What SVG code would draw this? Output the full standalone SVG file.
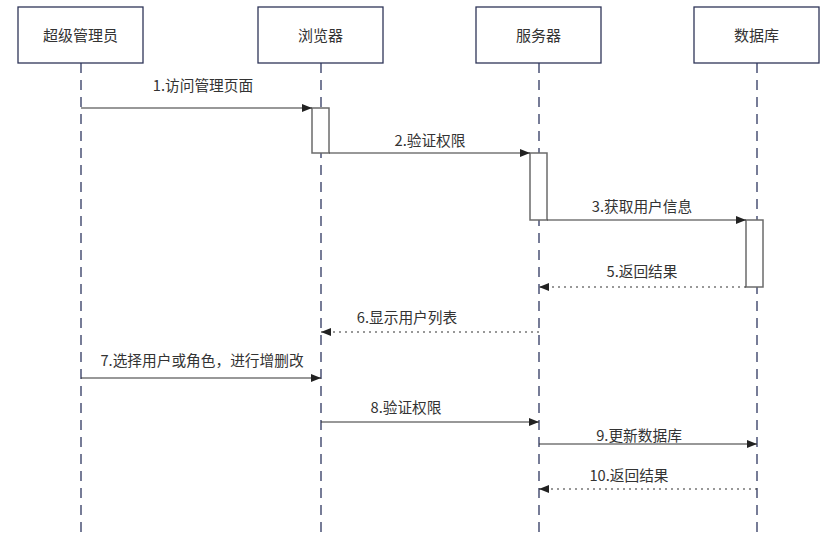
<svg xmlns="http://www.w3.org/2000/svg" width="839" height="537" viewBox="0 0 839 537">
<defs>
<style>
.box{fill:#fff;stroke:#2e3558;stroke-width:1.3}
.life{stroke:#2e3760;stroke-width:1.3;stroke-dasharray:10,7;fill:none}
.act{fill:#fff;stroke:#6b6b6b;stroke-width:1.5}
.msg{stroke:#333;stroke-width:1.2;fill:none}
.ret{stroke:#333;stroke-width:1.2;fill:none;stroke-dasharray:2,4}
.lbl{font-family:"Noto Sans CJK SC","Noto Sans",sans-serif;font-size:14.7px;fill:#333;text-anchor:middle}
.nlbl{font-family:"Noto Sans CJK SC","Noto Sans",sans-serif;font-size:15px;fill:#333;text-anchor:middle}
</style>
<marker id="ah" viewBox="0 0 10 10" refX="10" refY="5" markerWidth="10" markerHeight="10" markerUnits="userSpaceOnUse" orient="auto">
<path d="M0,1 L10,5 L0,9 Z" fill="#222"/>
</marker>
</defs>
<rect width="839" height="537" fill="#fff"/>
<g id="admin">
<rect class="box" x="18" y="7" width="125" height="56"/>
<text class="nlbl" x="80.5" y="41">超级管理员</text>
<line class="life" x1="81" y1="63" x2="81" y2="537"/>
</g>
<g id="browser">
<rect class="box" x="258" y="7" width="125" height="56"/>
<text class="nlbl" x="320.5" y="41">浏览器</text>
<line class="life" x1="321" y1="63" x2="321" y2="537"/>
</g>
<g id="server">
<rect class="box" x="476" y="7" width="125" height="56"/>
<text class="nlbl" x="538.5" y="41">服务器</text>
<line class="life" x1="539" y1="63" x2="539" y2="537"/>
</g>
<g id="database">
<rect class="box" x="694" y="7" width="125" height="56"/>
<text class="nlbl" x="756.5" y="41">数据库</text>
<line class="life" x1="757" y1="63" x2="757" y2="537"/>
</g>
<g id="activations">
<rect class="act" x="312" y="108" width="17" height="45"/>
<rect class="act" x="530" y="153" width="17" height="67"/>
<rect class="act" x="746" y="220" width="17" height="67"/>
</g>
<g id="connectors">
<line class="msg" x1="81" y1="108" x2="312" y2="108" marker-end="url(#ah)"/>
<line class="msg" x1="329" y1="153" x2="530" y2="153" marker-end="url(#ah)"/>
<line class="msg" x1="547" y1="220" x2="746" y2="220" marker-end="url(#ah)"/>
<line class="ret" x1="746" y1="287" x2="539" y2="287" marker-end="url(#ah)"/>
<line class="ret" x1="539" y1="332" x2="321" y2="332" marker-end="url(#ah)"/>
<line class="msg" x1="81" y1="378" x2="321" y2="378" marker-end="url(#ah)"/>
<line class="msg" x1="321" y1="422" x2="539" y2="422" marker-end="url(#ah)"/>
<line class="msg" x1="539" y1="444" x2="757" y2="444" marker-end="url(#ah)"/>
<line class="ret" x1="757" y1="489" x2="539" y2="489" marker-end="url(#ah)"/>
</g>
<g id="labels">
<text class="lbl" x="203" y="91">1.访问管理页面</text>
<text class="lbl" x="430" y="146">2.验证权限</text>
<text class="lbl" x="642" y="212">3.获取用户信息</text>
<text class="lbl" x="642" y="277">5.返回结果</text>
<text class="lbl" x="407" y="323">6.显示用户列表</text>
<text class="lbl" x="202" y="366">7.选择用户或角色，进行增删改</text>
<text class="lbl" x="406" y="413">8.验证权限</text>
<text class="lbl" x="639" y="441">9.更新数据库</text>
<text class="lbl" x="629" y="481">10.返回结果</text>
</g>
</svg>
